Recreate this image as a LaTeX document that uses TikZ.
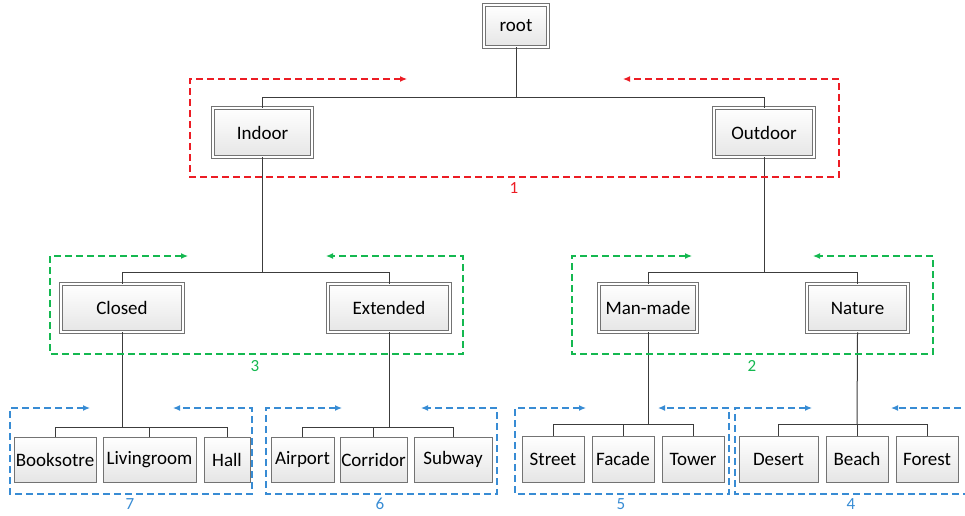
\documentclass[tikz,border=0pt]{standalone}
\usepackage{fontspec}
\setmainfont{Carlito}
\usetikzlibrary{arrows.meta,shadows}
\definecolor{cred}{RGB}{236,28,36}
\definecolor{cgreen}{RGB}{20,184,80}
\definecolor{cblue}{RGB}{56,140,212}
\definecolor{cbord}{RGB}{115,115,115}
\definecolor{cline}{RGB}{60,60,60}
\tikzset{
  box/.style={rectangle, draw=cbord, line width=0.9pt, top color=white, bottom color=gray!20,
    inner sep=0pt, font=\fontsize{19}{22}\selectfont, text=black,
    drop shadow={shadow xshift=1.2pt, shadow yshift=-1.2pt, opacity=0.25, fill=black}},
  dbox/.style={box, double=white, double distance=1.6pt, line width=0.8pt},
  conn/.style={draw=cline, line width=1pt},
  grp/.style={line width=1.2pt, dash pattern=on 7pt off 4pt, {Latex[length=7pt,width=6pt]}-{Latex[length=7pt,width=6pt]}},
  grplbl/.style={font=\fontsize{17}{20}\selectfont}
}
\begin{document}
\begin{tikzpicture}[x=1pt,y=-1pt]
\useasboundingbox (0,0) rectangle (965,515);
% level 0,1,2
\node[dbox, minimum width=64pt, minimum height=42pt] (root) at (516,26) {root};
\node[dbox, minimum width=99pt, minimum height=49pt] (indoor) at (262.5,132.5) {Indoor};
\node[dbox, minimum width=100pt, minimum height=49pt] (outdoor) at (764,132.5) {Outdoor};
\node[dbox, minimum width=122pt, minimum height=48pt] (closed) at (122,308) {Closed};
\node[dbox, minimum width=122pt, minimum height=48pt] (extended) at (389,308) {Extended};
\node[dbox, minimum width=98pt, minimum height=48pt] (manmade) at (648,308) {Man-made};
\node[dbox, minimum width=101pt, minimum height=48pt] (nature) at (857.5,308) {Nature};
% leaves
\node[box, minimum width=82pt, minimum height=45pt] (booksotre) at (55,459.5) {Booksotre};
\node[box, minimum width=93pt, minimum height=45pt] (living) at (149.5,459.5) {Livingroom};
\node[box, minimum width=46pt, minimum height=45pt] (hall) at (227,459.5) {Hall};
\node[box, minimum width=63pt, minimum height=45pt] (airport) at (302.5,459.5) {Airport};
\node[box, minimum width=67pt, minimum height=45pt] (corridor) at (373.5,459.5) {Corridor};
\node[box, minimum width=78pt, minimum height=45pt] (subway) at (453,459.5) {Subway};
\node[box, minimum width=62pt, minimum height=46pt] (street) at (553,459) {Street};
\node[box, minimum width=62pt, minimum height=46pt] (facade) at (623,459) {Facade};
\node[box, minimum width=62pt, minimum height=46pt] (tower) at (693,459) {Tower};
\node[box, minimum width=79pt, minimum height=46pt] (desert) at (778.5,459) {Desert};
\node[box, minimum width=62pt, minimum height=46pt] (beach) at (857,459) {Beach};
\node[box, minimum width=62pt, minimum height=46pt] (forest) at (927,459) {Forest};
% bus points
\coordinate (b0) at (516,97);
\coordinate (b1) at (262.5,272);
\coordinate (b2) at (764,272);
\coordinate (b3) at (122,427);
\coordinate (b4) at (389,427);
\coordinate (b5) at (648,424);
\coordinate (b6) at (857,424);
% connectors
\draw[conn] (root.south) -- (b0);
\draw[conn] (b0) -| (indoor.north);
\draw[conn] (b0) -| (outdoor.north);
\draw[conn] (indoor.south) -- (b1);
\draw[conn] (b1) -| (closed.north);
\draw[conn] (b1) -| (extended.north);
\draw[conn] (outdoor.south) -- (b2);
\draw[conn] (b2) -| (manmade.north);
\draw[conn] (b2) -| (nature.north);
\draw[conn] (closed.south) -- (b3);
\draw[conn] (b3) -| (booksotre.north);
\draw[conn] (b3) -| (living.north);
\draw[conn] (b3) -| (hall.north);
\draw[conn] (extended.south) -- (b4);
\draw[conn] (b4) -| (airport.north);
\draw[conn] (b4) -| (corridor.north);
\draw[conn] (b4) -| (subway.north);
\draw[conn] (manmade.south) -- (b5);
\draw[conn] (b5) -| (street.north);
\draw[conn] (b5) -| (facade.north);
\draw[conn] (b5) -| (tower.north);
\draw[conn] (nature.south) -- (b6);
\draw[conn] (b6) -| (desert.north);
\draw[conn] (b6) -| (beach.north);
\draw[conn] (b6) -| (forest.north);
% group frames
\draw[grp, cred] (407,79) -- (190,79) -- (190,177) -- (839,177) -- (839,79) -- (623,79);
\node[grplbl, text=cred] (l1) at (514,188) {1};
\draw[grp, cgreen] (188,256) -- (50,256) -- (50,354) -- (463,354) -- (463,256) -- (326,256);
\node[grplbl, text=cgreen] (l3) at (255,366) {3};
\draw[grp, cgreen] (692,256) -- (572,256) -- (572,354) -- (933,354) -- (933,256) -- (813,256);
\node[grplbl, text=cgreen] (l2) at (752,366) {2};
\draw[grp, cblue] (90,408) -- (10,408) -- (10,494) -- (252,494) -- (252,408) -- (173,408);
\node[grplbl, text=cblue] (l7) at (130,504) {7};
\draw[grp, cblue] (342,408) -- (266,408) -- (266,494) -- (497,494) -- (497,408) -- (421,408);
\node[grplbl, text=cblue] (l6) at (380,504) {6};
\draw[grp, cblue] (586,408) -- (515,408) -- (515,494) -- (729,494) -- (729,408) -- (658,408);
\node[grplbl, text=cblue] (l5) at (621,504) {5};
\draw[grp, cblue, {Latex[length=7pt,width=6pt]}-] (812,408) -- (735,408) -- (735,494) -- (972,494);
\draw[grp, cblue, -{Latex[length=7pt,width=6pt]}] (972,408) -- (891,408);
\node[grplbl, text=cblue] (l4) at (851,504) {4};
\end{tikzpicture}
\end{document}
